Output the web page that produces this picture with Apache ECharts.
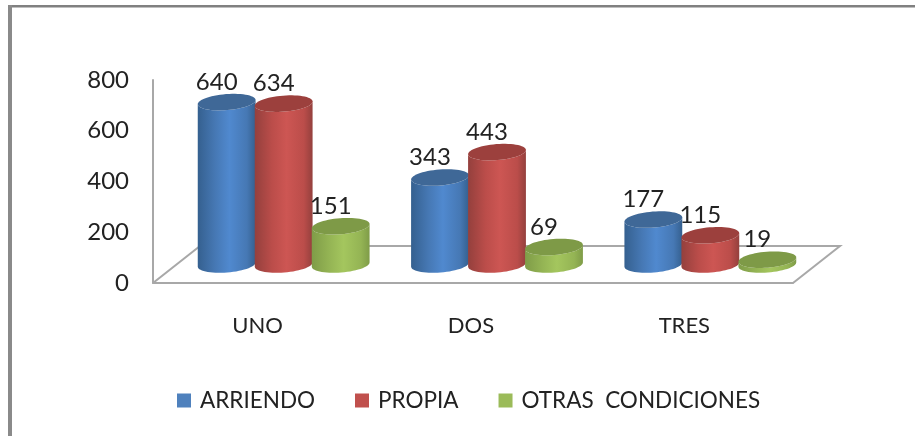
<!DOCTYPE html>
<html>
<head>
<meta charset="utf-8">
<style>
  html, body { margin: 0; padding: 0; background: #fff; }
  #chart { width: 915px; height: 436px; }
</style>
<script src="https://cdn.jsdelivr.net/npm/echarts@6/dist/echarts.min.js"></script>
</head>
<body>
<div id="chart"></div>
<script>
const categories = ["UNO", "DOS", "TRES"];
const arriendo = [640, 343, 177];
const propia = [634, 443, 115];
const otras = [151, 69, 19];
const yTicks = [0, 200, 400, 600, 800];

const FONT = "Lato, 'Open Sans', sans-serif";
const DEPTH_DY = 18.5;   // cylinders stand back from the front edge of the floor
const RX = 29;
const RY = 8;
const TILT = -4.5 * Math.PI / 180;

const chart = echarts.init(document.getElementById("chart"));

// outline of a tilted ellipse, from->to in radians
function arc(cx, cy, from, to, n) {
  const pts = [];
  for (let i = 0; i <= n; i++) {
    const t = from + (to - from) * i / n;
    const ex = RX * Math.cos(t);
    const ey = RY * Math.sin(t);
    pts.push([
      cx + ex * Math.cos(TILT) - ey * Math.sin(TILT),
      cy + ex * Math.sin(TILT) + ey * Math.cos(TILT)
    ]);
  }
  return pts;
}

function cylinder(offsetX, colors) {
  return function (params, api) {
    const base = api.coord([api.value(0), 0]);
    const top = api.coord([api.value(0), api.value(1)]);
    const cx = base[0] + offsetX;
    const by = base[1] - DEPTH_DY;
    const ty = top[1] - DEPTH_DY;
    const side = new echarts.graphic.LinearGradient(0, 0, 1, 0, [
      { offset: 0, color: colors.edge },
      { offset: 0.3, color: colors.body },
      { offset: 0.55, color: colors.light },
      { offset: 0.85, color: colors.body },
      { offset: 1, color: colors.edge }
    ]);
    // front half of the base, then back along the top
    const body = arc(cx, by, Math.PI, 0, 30).concat(arc(cx, ty, 0, Math.PI, 30));
    return {
      type: "group",
      children: [
        { type: "polygon", shape: { points: body }, style: { fill: side } },
        { type: "polygon", shape: { points: arc(cx, ty, 0, Math.PI * 2, 60) }, style: { fill: colors.top } },
        {
          type: "text",
          style: {
            text: String(api.value(1)),
            x: cx - 10,
            y: ty - 20,
            fill: "#222",
            font: "24px " + FONT,
            textAlign: "center",
            textVerticalAlign: "middle"
          }
        }
      ]
    };
  };
}

function floor(params, api) {
  const g = params.coordSys;
  const bottom = g.y + g.height;
  const right = g.x + g.width;
  const style = { stroke: "#a8a8a8", lineWidth: 2, fill: null };
  return {
    type: "polyline",
    shape: { points: [[g.x, bottom], [g.x + 47, bottom - 37], [right + 47, bottom - 37], [right, bottom]] },
    style: style
  };
}

const series3d = [
  { name: "ARRIENDO", values: arriendo, off: -33, color: "#4f81bd",
    colors: { edge: "#35608f", body: "#4678b4", light: "#5089cf", top: "#3f6897" } },
  { name: "PROPIA", values: propia, off: 24, color: "#c0504d",
    colors: { edge: "#94403d", body: "#bb4d4a", light: "#cd5653", top: "#9c403d" } },
  { name: "OTRAS  CONDICIONES", values: otras, off: 81, color: "#9bbb59",
    colors: { edge: "#7f9c48", body: "#94b454", light: "#a4c65e", top: "#7e9a47" } }
];

const option = {
  animation: false,
  backgroundColor: "#ffffff",
  graphic: [
    { type: "rect", shape: { x: 8, y: 5, width: 907, height: 2.5 }, style: { fill: "#808080" } },
    { type: "rect", shape: { x: 8, y: 5, width: 4, height: 431 }, style: { fill: "#8a8a8a" } }
  ],
  grid: { left: 153, right: 122, top: 80, bottom: 153 },
  legend: {
    left: 172,
    top: 384,
    itemWidth: 14,
    itemHeight: 14,
    itemGap: 40,
    icon: "rect",
    data: series3d.map(s => s.name),
    textStyle: { fontFamily: FONT, fontSize: 22.5, color: "#222", padding: [0, 0, 0, 4] }
  },
  xAxis: {
    type: "category",
    data: categories,
    axisTick: { show: false },
    axisLine: { lineStyle: { color: "#a8a8a8", width: 2 } },
    axisLabel: { margin: 32, fontFamily: FONT, fontSize: 22, color: "#222", padding: [0, 4, 0, 0] }
  },
  yAxis: {
    type: "value",
    min: yTicks[0],
    max: yTicks[yTicks.length - 1],
    interval: yTicks[1] - yTicks[0],
    splitLine: { show: false },
    axisTick: { show: false },
    axisLine: { show: true, lineStyle: { color: "#a8a8a8", width: 2 } },
    axisLabel: { margin: 24, fontFamily: FONT, fontSize: 24, color: "#222" }
  },
  series: [
    { type: "custom", silent: true, z: 1, renderItem: floor, data: [[0, 0]], encode: { x: 0, y: 1 } }
  ].concat(series3d.map((s, idx) => ({
    type: "custom",
    name: s.name,
    z: 2 + idx,
    itemStyle: { color: s.color },
    renderItem: cylinder(s.off, s.colors),
    encode: { x: 0, y: 1 },
    data: s.values.map((v, i) => [i, v])
  })))
};

chart.setOption(option);
</script>
</body>
</html>
